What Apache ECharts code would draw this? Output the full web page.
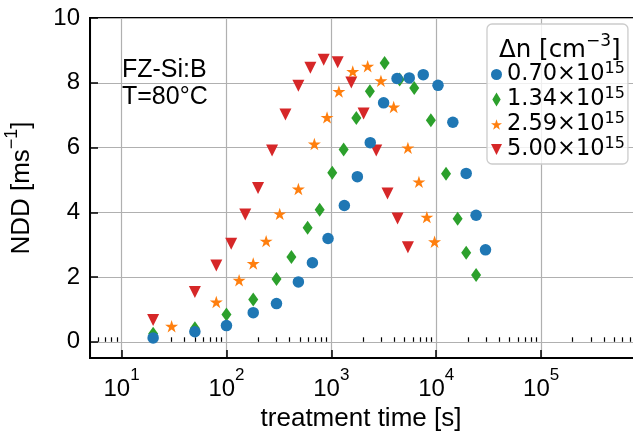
<!DOCTYPE html>
<html>
<head>
<meta charset="utf-8">
<script src="https://cdn.jsdelivr.net/npm/echarts@6/dist/echarts.min.js"></script>
<style>
  html, body { margin: 0; padding: 0; background: #fff; }
  #chart { width: 633px; height: 439px; }
</style>
</head>
<body>
<div id="chart"></div>
<script>
// Excess carrier densities (mantissa, ×10^15 cm^-3)
const densities = ['0.70', '1.34', '2.59', '5.00'];
const densityExponent = '15';

// Treatment time [s] and normalised defect density [ms^-1] per density
const timeA = [20, 50, 100, 180, 300, 485, 660, 930, 1330, 1770, 2350, 3150, 4230, 5530, 7520, 10400, 14400, 19300, 24000, 29500];
const nddA  = [0.12, 0.31, 0.50, 0.90, 1.18, 1.85, 2.44, 3.19, 4.21, 5.10, 6.15, 7.38, 8.13, 8.15, 8.25, 7.92, 6.78, 5.20, 3.91, 2.84];

const timeB = [20, 50, 100, 180, 300, 416, 594, 774, 1020, 1310, 1730, 2330, 3220, 4480, 6170, 8890, 12400, 16000, 19300, 24000];
const nddB  = [0.25, 0.42, 0.84, 1.31, 1.94, 2.62, 3.52, 4.08, 5.22, 5.94, 6.91, 7.74, 8.61, 8.10, 7.84, 6.84, 5.19, 3.80, 2.75, 2.06];

const timeC = [30, 80, 132, 180, 239, 322, 485, 689, 910, 1180, 1600, 2220, 2970, 3930, 5370, 6840, 8140, 9640];
const nddC  = [0.48, 1.23, 1.90, 2.42, 3.11, 3.95, 4.72, 6.11, 6.93, 7.73, 8.35, 8.51, 8.06, 7.25, 5.99, 4.94, 3.85, 3.09];

const timeD = [20, 50, 80, 111, 151, 200, 272, 365, 485, 631, 845, 1150, 1550, 2030, 2680, 3430, 4280, 5370];
const nddD  = [0.67, 1.54, 2.36, 3.03, 3.93, 4.75, 5.91, 7.02, 7.91, 8.46, 8.71, 8.63, 8.01, 7.05, 5.91, 4.58, 3.81, 2.92];

// Axis ranges
const xMin = 5, xMax = 1e6;
const yMin = -0.5, yMax = 10;
const yTickValues = [0, 2, 4, 6, 8, 10];

const colors = ['#1f77b4', '#2ca02c', '#ff7f0e', '#d62728'];

const SYM_STAR = 'path://M0,-1 L0.2245,-0.309 L0.951,-0.309 L0.3633,0.118 L0.588,0.809 L0,0.382 L-0.588,0.809 L-0.3633,0.118 L-0.951,-0.309 L-0.2245,-0.309 Z';
const SYM_TRI_DOWN = 'path://M-1,-1 L1,-1 L0,1 Z';
const SYM_DIAMOND = 'path://M0,-1 L0.6,0 L0,1 L-0.6,0 Z';

// Minor ticks at 2..9 × 10^k on the log axis
const minorTicks = [];
for (let k = 0; k <= 5; k++) {
  for (let m = 2; m <= 9; m++) {
    const v = m * Math.pow(10, k);
    if (v > xMin && v < xMax) minorTicks.push(v);
  }
}

const AX_FONT = 'Liberation Sans';
const LEG_FONT = 'DejaVu Sans';

function pairs(xs, ys) { return xs.map((x, i) => [x, ys[i]]); }

const chart = echarts.init(document.getElementById('chart'), null, { renderer: 'canvas' });

const seriesDefs = [
  { name: densities[3], data: pairs(timeD, nddD), symbol: SYM_TRI_DOWN, symbolSize: 12, color: colors[3] },
  { name: densities[2], data: pairs(timeC, nddC), symbol: SYM_STAR, symbolSize: 13, color: colors[2] },
  { name: densities[1], data: pairs(timeB, nddB), symbol: SYM_DIAMOND, symbolSize: [10, 14], color: colors[1], keep: false },
  { name: densities[0], data: pairs(timeA, nddA), symbol: 'circle', symbolSize: 11.5, color: colors[0] }
];

chart.setOption({
  animation: false,
  backgroundColor: '#fff',
  grid: {
    left: 90, top: 18, right: -13, bottom: 81,
    outerBoundsMode: 'none', containLabel: false,
    show: true, borderColor: '#000', borderWidth: 2, backgroundColor: 'transparent'
  },
  title: {
    text: '{m|Δn [cm}{s|−3}{m|]}',
    left: 494, top: 28,
    textStyle: {
      fontFamily: LEG_FONT, color: '#000', fontWeight: 'normal',
      rich: {
        m: { fontFamily: LEG_FONT, fontSize: 24.5, fontWeight: 'normal', lineHeight: 35, color: '#000' },
        s: { fontFamily: LEG_FONT, fontSize: 17, fontWeight: 'normal', lineHeight: 17, verticalAlign: 'top', color: '#000' }
      }
    }
  },
  legend: {
    orient: 'vertical',
    left: 487, top: 24,
    padding: [37, 3, 3, 4],
    itemWidth: 11, itemHeight: 14, itemGap: 0,
    backgroundColor: 'rgba(255,255,255,0.8)',
    borderColor: '#cccccc', borderWidth: 1.3, borderRadius: 5,
    data: [
      { name: densities[0], icon: 'circle' },
      { name: densities[1], icon: SYM_DIAMOND },
      { name: densities[2], icon: SYM_STAR },
      { name: densities[3], icon: SYM_TRI_DOWN }
    ],
    formatter: (name) => '{m|' + name + '×10}{s|' + densityExponent + '}',
    textStyle: {
      fontFamily: LEG_FONT, color: '#000',
      rich: {
        m: { fontFamily: LEG_FONT, fontSize: 22.5, lineHeight: 27, color: '#000' },
        s: { fontFamily: LEG_FONT, fontSize: 16, lineHeight: 16, verticalAlign: 'top', color: '#000' }
      }
    }
  },
  xAxis: [
    {
      type: 'log', logBase: 10, min: xMin, max: xMax, position: 'bottom',
      name: 'treatment time [s]', nameLocation: 'middle', nameGap: 48,
      nameTextStyle: { fontFamily: AX_FONT, fontSize: 26, color: '#000', padding: [0, 14, 0, 0] },
      axisLine: { show: true, onZero: false, lineStyle: { color: '#000', width: 2 } },
      axisTick: { show: true, inside: true, length: 8, lineStyle: { color: '#000', width: 1.5 } },
      axisLabel: {
        showMinLabel: false, showMaxLabel: false, margin: 9,
        formatter: (v) => '{b|10}{s|' + Math.round(Math.log10(v)) + '}',
        rich: {
          b: { fontFamily: AX_FONT, fontSize: 24, lineHeight: 44, color: '#000' },
          s: { fontFamily: AX_FONT, fontSize: 17, lineHeight: 17, verticalAlign: 'top', color: '#000' }
        }
      },
      splitLine: { show: true, lineStyle: { color: '#b0b0b0', width: 1.2 } }
    },
    {
      type: 'log', logBase: 10, min: xMin, max: xMax, position: 'bottom', gridIndex: 0,
      axisLine: { show: false },
      axisTick: { show: true, inside: true, length: 4.5, customValues: minorTicks, lineStyle: { color: '#000', width: 1.2 } },
      axisLabel: { show: false },
      splitLine: { show: false }
    }
  ],
  yAxis: {
    type: 'value', min: yMin, max: yMax,
    name: '{m|NDD [ms}{s|−1}{m|]}', nameLocation: 'middle', nameRotate: 90, nameGap: 49,
    nameTextStyle: {
      fontFamily: AX_FONT, fontSize: 26, color: '#000',
      rich: {
        m: { fontFamily: AX_FONT, fontSize: 26, lineHeight: 38, color: '#000' },
        s: { fontFamily: AX_FONT, fontSize: 18, lineHeight: 18, verticalAlign: 'top', color: '#000' }
      }
    },
    axisLine: { show: true, onZero: false, lineStyle: { color: '#000', width: 2 } },
    axisTick: { show: true, inside: true, length: 8, customValues: yTickValues, lineStyle: { color: '#000', width: 1.5 } },
    axisLabel: {
      customValues: yTickValues, margin: 10,
      fontFamily: AX_FONT, fontSize: 24, color: '#000'
    },
    splitLine: { show: true, lineStyle: { color: '#b0b0b0', width: 1.2 } }
  },
  graphic: [
    {
      type: 'text', left: 122, top: 57, z: 10,
      style: { text: 'FZ-Si:B\nT=80°C', font: '25px "Liberation Sans"', fill: '#000', lineHeight: 27 }
    }
  ],
  series: seriesDefs.map((s) => ({
    type: 'scatter', name: s.name, xAxisIndex: 0, yAxisIndex: 0,
    data: s.data, symbol: s.symbol, symbolSize: s.symbolSize,
    symbolKeepAspect: s.keep !== false,
    itemStyle: { color: s.color, opacity: 1 },
    emphasis: { disabled: true }
  }))
});
</script>
</body>
</html>
